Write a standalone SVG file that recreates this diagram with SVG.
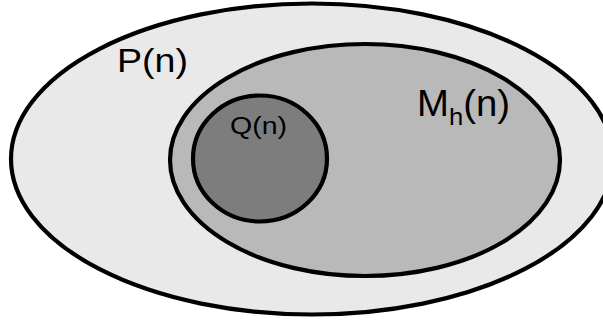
<svg xmlns="http://www.w3.org/2000/svg" width="603" height="324" viewBox="0 0 603 324">
<style>
.set{stroke:#000;stroke-width:4.2}
.lbl{font-family:"Liberation Sans",Arial,sans-serif;fill:#000}
</style>
<rect width="603" height="324" fill="#fff"/>
<g id="P">
<ellipse class="set" cx="312" cy="159" rx="301" ry="155.5" fill="#e9e9e9"/>
<text class="lbl" x="117" y="72" font-size="33" textLength="71" lengthAdjust="spacingAndGlyphs">P(n)</text>
</g>
<g id="Mh">
<ellipse class="set" cx="365" cy="160" rx="195" ry="116" fill="#b9b9b9"/>
<text class="lbl" x="417" y="116" font-size="36" textLength="93" lengthAdjust="spacingAndGlyphs">M<tspan font-size="24" dy="9">h</tspan><tspan dy="-9">(n)</tspan></text>
</g>
<g id="Q">
<ellipse class="set" cx="260" cy="158.5" rx="67" ry="63" fill="#7d7d7d" stroke-width="4.5"/>
<text class="lbl" x="230" y="134" font-size="23" textLength="57" lengthAdjust="spacingAndGlyphs">Q(n)</text>
</g>
<g id="connectors"/>
</svg>
